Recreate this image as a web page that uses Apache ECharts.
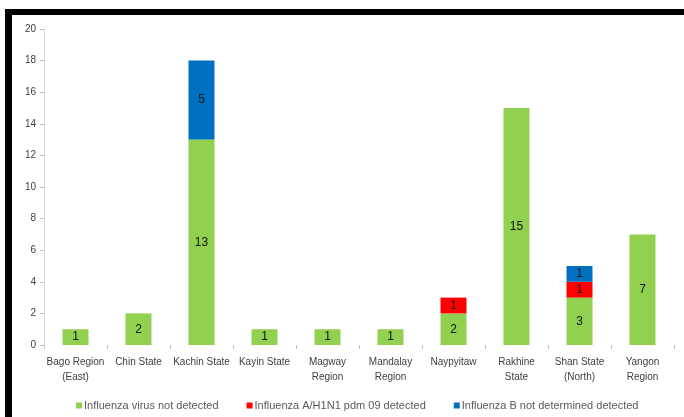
<!DOCTYPE html>
<html>
<head>
<meta charset="utf-8">
<script src="https://cdn.jsdelivr.net/npm/echarts@6/dist/echarts.min.js"></script>
<style>
  html, body { margin: 0; padding: 0; background: #fff; }
  #chart { width: 684px; height: 417px; }
</style>
</head>
<body>
<div id="chart"></div>
<script>
// Regions and case counts by test outcome
const categories = [
  'Bago Region\n(East)', 'Chin State', 'Kachin State', 'Kayin State',
  'Magway\nRegion', 'Mandalay\nRegion', 'Naypyitaw', 'Rakhine\nState',
  'Shan State\n(North)', 'Yangon\nRegion'
];
const notDetected = [1, 2, 13, 1, 1, 1, 2, 15, 3, 7];
const h1n1 = [null, null, null, null, null, null, 1, null, 1, null];
const fluB = [null, null, 5, null, null, null, null, null, 1, null];
const seriesNames = [
  'Influenza virus not detected',
  'Influenza A/H1N1 pdm 09 detected',
  'Influenza B not determined detected'
];
const yTicks = { min: 0, max: 20, interval: 2 };

const font = 'Liberation Sans, Arial, sans-serif';
const chart = echarts.init(document.getElementById('chart'), null, { renderer: 'canvas' });

function barSeries(name, data, color) {
  return {
    name, type: 'bar', stack: 'total', data,
    barWidth: 26,
    itemStyle: { color },
    label: {
      show: true, position: 'inside', color: '#111', fontSize: 12, fontFamily: font,
      formatter: p => (p.value == null ? '' : p.value)
    }
  };
}

chart.setOption({
  animation: false,
  grid: { left: 44, right: 10, top: 29, bottom: 72 },
  graphic: [
    { type: 'rect', shape: { x: 5, y: 9, width: 679, height: 6 }, style: { fill: '#000' } },
    { type: 'rect', shape: { x: 5, y: 9, width: 7, height: 408 }, style: { fill: '#000' } }
  ],
  legend: {
    top: 395, left: 71, itemWidth: 6, itemHeight: 6, itemGap: 28,
    icon: 'rect',
    textStyle: { color: '#595959', fontSize: 11, fontFamily: font, padding: [0, 0, 0, -3] },
    data: seriesNames
  },
  xAxis: {
    type: 'category', data: categories,
    axisLine: { show: false },
    axisTick: { show: true, length: 4, lineStyle: { color: '#bfbfbf' } },
    axisLabel: { color: '#404040', fontSize: 10, fontFamily: font, margin: 10, lineHeight: 15, interval: 0 }
  },
  yAxis: {
    type: 'value', min: yTicks.min, max: yTicks.max, interval: yTicks.interval,
    splitLine: { show: false },
    axisLine: { show: true, lineStyle: { color: '#d9d9d9' } },
    axisTick: { show: true, length: 4, lineStyle: { color: '#bfbfbf' } },
    axisLabel: { color: '#404040', fontSize: 10, fontFamily: font, margin: 8 }
  },
  series: [
    barSeries(seriesNames[0], notDetected, '#92D050'),
    barSeries(seriesNames[1], h1n1, '#FF0000'),
    barSeries(seriesNames[2], fluB, '#0070C0')
  ]
});
</script>
</body>
</html>
